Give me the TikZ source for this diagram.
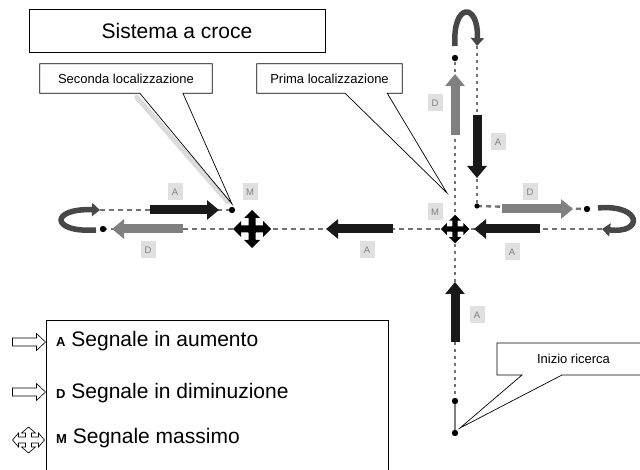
\documentclass[tikz,border=0pt]{standalone}
\usepackage{fontspec}
\setmainfont{Liberation Sans}
\usepackage{tikz}
\usetikzlibrary{arrows.meta,positioning,calc}

\begin{document}
\begin{tikzpicture}[x=1pt, y=-1pt,
    titlebox/.style={draw, line width=0.9pt, minimum width=296pt, minimum height=43pt,
                     font=\fontsize{21}{24}\selectfont},
    callbox/.style={minimum height=29pt, inner sep=0pt, font=\fontsize{13}{15}\selectfont},
    callline/.style={line width=0.7pt},
    lab/.style={fill=black!12, text=black!50, font=\fontsize{9.5}{9.5}\selectfont,
                minimum width=15pt, minimum height=17pt, inner sep=0pt},
    trackh/.style={black!55, line width=2.4pt, dash pattern=on 5pt off 4pt},
    trackv/.style={black!55, line width=2.4pt, dash pattern=on 3pt off 4pt},
    blkA/.style={black!90, line width=9pt, -{Triangle[length=12pt,width=19pt]}},
    blkD/.style={black!50, line width=9pt, -{Triangle[length=12pt,width=19pt]}},
    giro/.style={black!72, line width=5.5pt, -{Triangle[length=8pt,width=13pt]}},
    leg/.style={anchor=base west, inner sep=0pt, font=\fontsize{21}{25}\selectfont},
    outl/.style={draw, fill=white, line width=0.6pt},
    pics/croce/.style={code={
      \fill[black] (3.5*#1,-3.5*#1) -- (11*#1,-3.5*#1) -- (11*#1,-8*#1) -- (19*#1,0)
        -- (11*#1,8*#1) -- (11*#1,3.5*#1) -- (3.5*#1,3.5*#1)
        -- (3.5*#1,11*#1) -- (8*#1,11*#1) -- (0,19*#1) -- (-8*#1,11*#1) -- (-3.5*#1,11*#1)
        -- (-3.5*#1,3.5*#1) -- (-11*#1,3.5*#1) -- (-11*#1,8*#1) -- (-19*#1,0)
        -- (-11*#1,-8*#1) -- (-11*#1,-3.5*#1) -- (-3.5*#1,-3.5*#1)
        -- (-3.5*#1,-11*#1) -- (-8*#1,-11*#1) -- (0,-19*#1) -- (8*#1,-11*#1) -- (3.5*#1,-11*#1) -- cycle;}},
    pics/frecciavuota/.style={code={
      \path[outl] (-16,-4) -- (8,-4) -- (8,-8.5) -- (17,0) -- (8,8.5) -- (8,4) -- (-16,4) -- cycle;}},
    pics/frecciaquattro/.style={code={
      \path[outl] (3,-3) -- (10,-3) -- (10,-7) -- (16,0) -- (10,7) -- (10,3) -- (3,3)
        -- (3,7) -- (7,7) -- (0,13) -- (-7,7) -- (-3,7) -- (-3,3)
        -- (-10,3) -- (-10,7) -- (-16,0) -- (-10,-7) -- (-10,-3) -- (-3,-3)
        -- (-3,-7) -- (-7,-7) -- (0,-13) -- (7,-7) -- (3,-7) -- cycle;}},
  ]
    \useasboundingbox (0,0) rectangle (640,470);

    \node[titlebox] (titolo) at (177,30.5) {Sistema a croce};

    \coordinate (inizio) at (455,433);
    \coordinate (s2)     at (455,401);
    \coordinate (m1)     at (455,229);
    \coordinate (t1)     at (455,58);
    \coordinate (t2)     at (477,46);
    \coordinate (ang)    at (477,206);
    \coordinate (r1)     at (587,209);
    \coordinate (r2)     at (602,229);
    \coordinate (m2)     at (252,229);
    \coordinate (l1)     at (103,229);
    \coordinate (l2)     at (100,210);
    \coordinate (sec)    at (232,210);

    \draw[trackv] (s2) -- (t1);
    \draw[trackv] (t2) -- (ang);
    \draw[trackh] (ang) -- (r1);
    \draw[trackh] (r2) -- (l1);
    \draw[trackh] (l2) -- (sec);
    \draw[black!50, line width=2.5pt] (inizio) -- (s2);

    \foreach \p in {inizio, s2, t1, r1, l1, sec}
      \fill (\p) circle (3.2pt);
    \fill (ang) circle (2.6pt);

    \draw[giro] (455,46) .. controls (452,2) and (479,2) .. (t2);
    \draw[giro] (598,208) .. controls (642,204) and (644,234) .. (r2);
    \draw[giro] (96,230) .. controls (50,233) and (50,208) .. (l2);

    \draw[blkA] (455,342) -- (455,282);
    \draw[blkD] (455,135) -- (455,74);
    \draw[blkA] (477,115) -- (477,178);
    \draw[blkD] (502,209) -- (573,209);
    \draw[blkA] (540,229) -- (474,229);
    \draw[blkA] (393,229) -- (326,229);
    \draw[blkD] (183,229) -- (112,229);
    \draw[blkA] (150,210) -- (219,210);

    \pic at (m2) {croce=1};
    \pic at (m1) {croce=0.75};
    \fill (m2) circle (5pt);
    \fill (m1) circle (4pt);

    \node[lab] (labA1) at (175,192) {A};
    \node[lab] (labM2) at (250,192) {M};
    \node[lab] (labD1) at (148,250) {D};
    \node[lab] (labA2) at (367,250) {A};
    \node[lab] (labM1) at (435,212) {M};
    \node[lab] (labD2) at (435,103) {D};
    \node[lab] (labA3) at (498,142) {A};
    \node[lab] (labD3) at (530,192) {D};
    \node[lab] (labA4) at (512,252) {A};
    \node[lab] (labA5) at (477,315) {A};

    \coordinate (pSec) at (232,204);
    \coordinate (pPri) at (447,193);
    \coordinate (pIni) at (460,428);

    \node[callbox, minimum width=172pt] (cSec) at (126,78.5) {Seconda localizzazione};
    \draw[black!14, line width=5pt, line cap=round] ($(cSec.south west)!0.58!(cSec.south east)+(-3,4)$) -- ($(pSec)+(-4,-2)$);
    \draw[callline] (cSec.south west) -- (cSec.north west) -- (cSec.north east) -- (cSec.south east)
      -- ($(cSec.south west)!0.83!(cSec.south east)$) -- (pSec)
      -- ($(cSec.south west)!0.58!(cSec.south east)$) -- cycle;

    \node[callbox, minimum width=145pt] (cPri) at (329.5,78.5) {Prima localizzazione};
    \draw[callline] (cPri.south west) -- (cPri.north west) -- (cPri.north east) -- (cPri.south east)
      -- ($(cPri.south west)!0.897!(cPri.south east)$) -- (pPri)
      -- ($(cPri.south west)!0.607!(cPri.south east)$) -- cycle;

    \node[callbox] (cIni) at (573.5,359) {Inizio ricerca};
    \draw[callline] (640,343) -- (497,343) -- (497,375) -- (522,375) -- (pIni) -- (562,375) -- (640,375);

    \draw[line width=0.8pt] (46,470) -- (46,320) -- (388,320) -- (388,470);
    \pic at (28.5,342) {frecciavuota};
    \pic at (28.5,392) {frecciavuota};
    \pic at (28.5,440) {frecciaquattro};
    \node[leg] (legA) at (56,346) {{\fontsize{13}{15}\selectfont\bfseries A} Segnale in aumento};
    \node[leg] (legD) at (56,398) {{\fontsize{13}{15}\selectfont\bfseries D} Segnale in diminuzione};
    \node[leg] (legM) at (56,443) {{\fontsize{13}{15}\selectfont\bfseries M} Segnale massimo};
  \end{tikzpicture}
\end{document}
